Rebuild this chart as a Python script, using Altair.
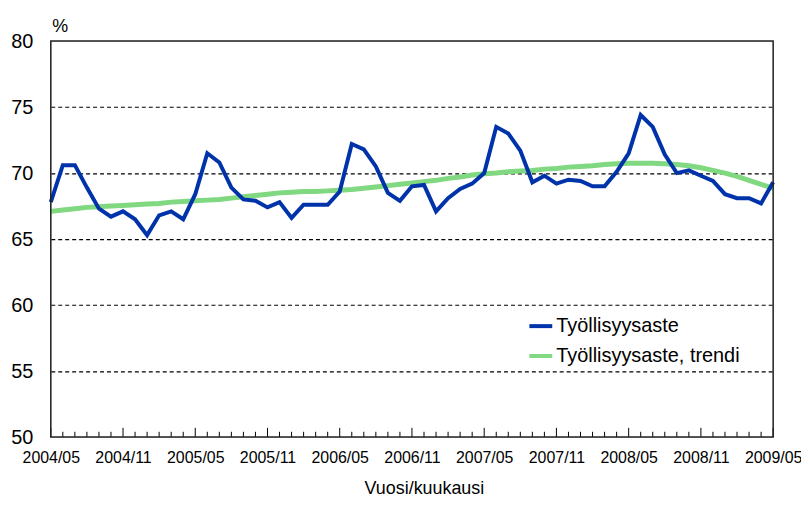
import altair as alt
import pandas as pd

# Month categories 2004/05 .. 2009/05
months = []
for i in range(61):
    y = 2004 + (4 + i) // 12
    m = (4 + i) % 12 + 1
    months.append(f"{y}/{m:02d}")

employment = [
    67.8, 70.6, 70.6, 68.9, 67.3, 66.7, 67.1, 66.5, 65.3, 66.8,
    67.1, 66.5, 68.4, 71.5, 70.8, 68.9, 68.0, 67.9, 67.4, 67.8,
    66.6, 67.6, 67.6, 67.6, 68.6, 72.2, 71.8, 70.5, 68.5, 67.9,
    69.0, 69.1, 67.1, 68.1, 68.8, 69.2, 70.0, 73.5, 73.0, 71.7,
    69.3, 69.8, 69.2, 69.5, 69.4, 69.0, 69.0, 70.1, 71.5, 74.4,
    73.5, 71.4, 70.0, 70.2, 69.8, 69.4, 68.4, 68.1, 68.1, 67.7,
    69.3,
]
trend = [
    67.1, 67.2, 67.3, 67.4, 67.45, 67.5, 67.55, 67.6, 67.65, 67.7,
    67.8, 67.85, 67.9, 67.95, 68.0, 68.1, 68.2, 68.3, 68.4, 68.5,
    68.55, 68.6, 68.6, 68.65, 68.7, 68.75, 68.85, 68.95, 69.05, 69.15,
    69.25, 69.35, 69.45, 69.6, 69.7, 69.85, 69.95, 70.0, 70.1, 70.15,
    70.2, 70.3, 70.35, 70.45, 70.5, 70.55, 70.65, 70.7, 70.75, 70.75,
    70.75, 70.7, 70.65, 70.55, 70.4, 70.2, 70.0, 69.75, 69.45, 69.15,
    68.85,
]
series_names = ["Työllisyysaste", "Työllisyysaste, trendi"]
colors = ["#0033aa", "#80d880"]
y_ticks = [50, 55, 60, 65, 70, 75, 80]
label_months = [months[i] for i in range(0, 61, 6)]

df_emp = pd.DataFrame({"month": months, "value": employment, "series": series_names[0]})
df_trend = pd.DataFrame({"month": months, "value": trend, "series": series_names[1]})
df_ticks = pd.DataFrame({
    "month": months,
    "base": [50] * len(months),
    "top": [50.7 if i % 6 == 0 else 50.4 for i in range(len(months))],
})

FONT = "Liberation Sans"
W, H = 726, 398

x_enc = alt.X(
    "month:O",
    sort=months,
    scale=alt.Scale(type="point", padding=0),
    axis=alt.Axis(
        values=label_months, labelAngle=0, labelFontSize=16, labelPadding=13,
        ticks=False, domain=False, grid=False, labelColor="black",
        title="Vuosi/kuukausi", titleFontSize=18, titleFontWeight="normal",
        titleX=375, titleY=57, titleAlign="center", titleBaseline="alphabetic",
        titleColor="black",
    ),
)
y_enc = alt.Y(
    "value:Q",
    scale=alt.Scale(domain=[50, 80], nice=False, zero=False),
    axis=alt.Axis(
        values=y_ticks, labelFontSize=20, labelPadding=18, ticks=False, domain=False,
        grid=True, gridColor="black", gridDash=[4, 3], gridWidth=1.2,
        gridOpacity={"condition": {"test": "datum.value === 80 || datum.value === 50", "value": 0}, "value": 1},
        labelColor="black",
        title="%", titleAngle=0, titleFontSize=18, titleFontWeight="normal",
        titleX=1, titleY=-10, titleAlign="left", titleBaseline="alphabetic",
        titleColor="black",
    ),
)
color_enc = alt.Color(
    "series:N",
    scale=alt.Scale(domain=series_names, range=colors),
    legend=alt.Legend(
        title=None, orient="none", legendX=479, legendY=273,
        symbolType="stroke", symbolSize=529, symbolStrokeWidth=4,
        labelFontSize=20, labelOffset=2, rowPadding=6, padding=0,
        labelColor="black", labelLimit=400,
    ),
)

ticks_layer = alt.Chart(df_ticks).mark_rule(color="black", strokeWidth=1).encode(
    x=alt.X("month:O", sort=months, scale=alt.Scale(type="point", padding=0)),
    y=alt.Y("base:Q"),
    y2="top:Q",
)

trend_layer = alt.Chart(df_trend).mark_line(strokeWidth=5).encode(
    x=x_enc, y=y_enc, color=color_enc,
)
emp_layer = alt.Chart(df_emp).mark_line(strokeWidth=4, strokeJoin="miter").encode(
    x=x_enc, y=y_enc, color=color_enc,
)

frame_layer = alt.Chart(pd.DataFrame({"a": [0]})).mark_rect(
    fill=None, stroke="#222222", strokeWidth=1.5
).encode(
    x=alt.value(0), x2=alt.value(W), y=alt.value(0), y2=alt.value(H),
)

chart = alt.layer(trend_layer, emp_layer, ticks_layer, frame_layer).properties(
    width=W, height=H,
    autosize=alt.AutoSizeParams(type="none"),
    padding={"left": 43, "top": 32, "right": 28, "bottom": 60},
    background="white",
).configure_view(
    strokeWidth=0,
).configure(
    font=FONT,
)

chart.save("out.html", embed_options={"renderer": "svg", "actions": False})
